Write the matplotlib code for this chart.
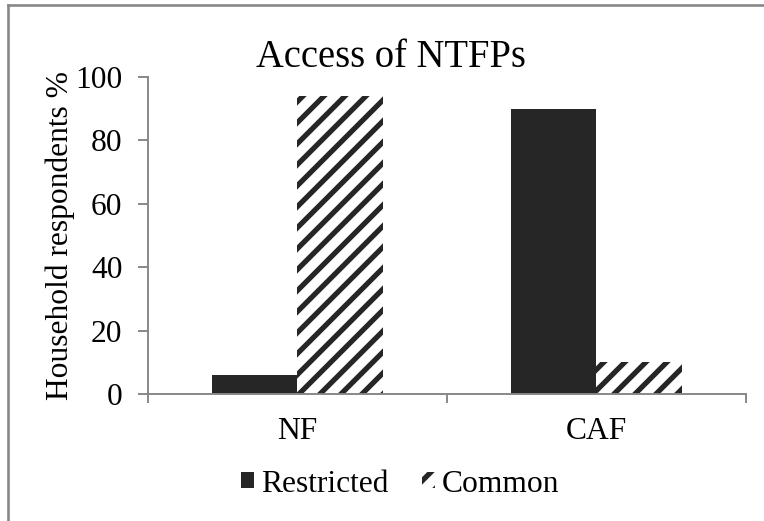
import matplotlib
matplotlib.use("Agg")
import matplotlib.pyplot as plt
from matplotlib.lines import Line2D
import numpy as np

# Data
categories = ["NF", "CAF"]
restricted = [6, 90]
common = [94, 10]
yticks = [0, 20, 40, 60, 80, 100]

DPI = 126
plt.rcParams["font.family"] = ["Liberation Serif", "DejaVu Serif"]
plt.rcParams["hatch.linewidth"] = 3.0

fig = plt.figure(figsize=(764 / DPI, 521 / DPI), dpi=DPI)
ax = fig.add_axes([0.1937, 0.2438, 0.9764 - 0.1937, 0.8522 - 0.2438])

axis_grey = "#878787"
bar_dark = "#262626"
body_size = 18
width = 0.285
x = np.arange(len(categories))

ax.bar(x - width / 2, restricted, width, color=bar_dark, linewidth=0,
       label="Restricted")
ax.bar(x + width / 2, common, width, facecolor="white", edgecolor=bar_dark,
       hatch="//", linewidth=0, label="Common")

ax.set_xlim(-0.5, len(categories) - 0.5)
ax.set_ylim(0, 100)
ax.set_yticks(yticks)
ax.set_xticks(x)
ax.set_xticklabels(categories)
ax.set_xticks(np.arange(-0.5, len(categories), 1.0), minor=True)

for side in ("top", "right"):
    ax.spines[side].set_visible(False)
for side in ("left", "bottom"):
    ax.spines[side].set_color(axis_grey)
    ax.spines[side].set_linewidth(1.1)

ax.tick_params(axis="y", direction="out", length=5.5, width=1.1,
               color=axis_grey, labelsize=body_size, pad=9)
ax.tick_params(axis="x", which="major", length=0, labelsize=body_size, pad=13)
ax.tick_params(axis="x", which="minor", direction="out", length=5,
               width=1.1, color=axis_grey)

ax.set_ylabel("Household respondents %", fontsize=body_size)
ax.yaxis.set_label_coords(-0.122, 0.5)

fig.text(0.512, 0.890, "Access of NTFPs", ha="center", va="center",
         fontsize=22)

fig.legend(loc="center", bbox_to_anchor=(0.524, 0.071), ncol=2,
           frameon=False, fontsize=body_size, handlelength=0.42,
           handleheight=0.42, handletextpad=0.22, columnspacing=1.05)

# Outer chart frame (left and top edges)
fig.add_artist(Line2D([8 / 764, 8 / 764], [0, 1 - 5 / 521],
                      transform=fig.transFigure, color=axis_grey, lw=1.5))
fig.add_artist(Line2D([8 / 764, 1], [1 - 5 / 521, 1 - 5 / 521],
                      transform=fig.transFigure, color=axis_grey, lw=1.5))

fig.savefig("out.png", dpi=DPI)
